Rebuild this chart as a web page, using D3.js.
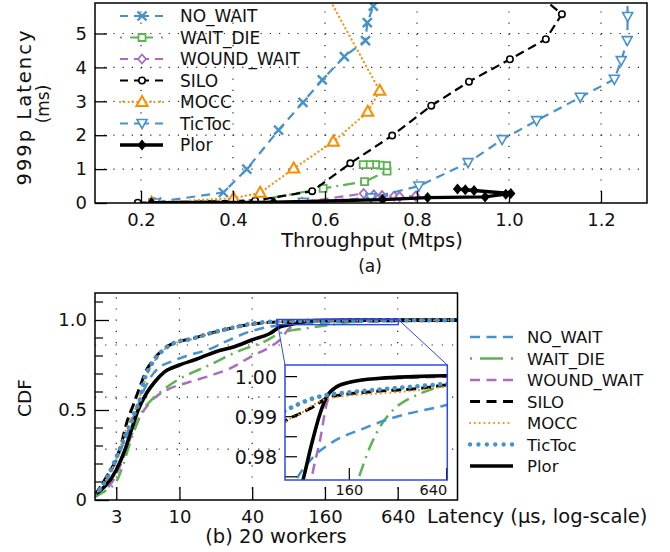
<!DOCTYPE html>
<html lang="en">
<head>
<meta charset="UTF-8">
<title>Throughput / latency</title>
<script src="https://d3js.org/d3.v7.min.js"></script>
<style>
  body { margin: 0; background: #fff; }
  text { font-family: "DejaVu Sans", sans-serif; fill: #111; }
</style>
</head>
<body>
<div id="plot"></div>
<script>
// ---------- (a) throughput (Mtps) vs 999p latency (ms) ----------
let names = ['NO_WAIT', 'WAIT_DIE', 'WOUND_WAIT', 'SILO', 'MOCC', 'TicToc', 'Plor'];

let tputNoWait = [[0.234,0.03],[0.379,0.31],[0.43,1.0],[0.499,2.15],[0.552,2.97],[0.594,3.63],
                  [0.642,4.32],[0.688,4.79],[0.692,5.32],[0.705,5.81],[0.712,6.2]];
let tputWaitDie = [[0.225,0.02],[0.46,0.09],[0.596,0.43],[0.686,0.63],[0.735,0.94],[0.734,1.1],
                   [0.72,1.12],[0.71,1.13],[0.697,1.13],[0.683,1.13]];
let tputWoundWait = [[0.23,0.01],[0.55,0.02],[0.684,0.28],[0.706,0.24],[0.724,0.22],[0.75,0.2],
                     [0.762,0.19],[0.797,0.2]];
let tputSilo = [[0.193,0.01],[0.448,0.07],[0.572,0.35],[0.655,1.17],[0.746,1.99],[0.831,2.87],
                [0.913,3.58],[1.002,4.24],[1.08,4.83],[1.115,5.57],[1.05,6.3]];
let tputMocc = [[0.223,0.01],[0.401,0.14],[0.459,0.3],[0.532,1.02],[0.618,1.81],[0.693,2.69],
                [0.719,3.31],[0.59,6.5]];
let tputTicToc = [[0.23,0.0],[0.553,0.02],[0.7,0.15],[0.804,0.5],[0.911,1.19],[0.985,1.87],
                  [1.06,2.43],[1.155,3.12],[1.229,3.65],[1.244,4.2],[1.257,4.79],[1.258,5.5],[1.257,6.2]];
let tputPlor = [[0.223,0.01],[0.488,0.02],[0.725,0.1],[0.823,0.16],[0.948,0.18],[0.993,0.26],
                [1.004,0.28],[0.924,0.37],[0.905,0.39],[0.888,0.41]];

let tputTicks = [0.2, 0.4, 0.6, 0.8, 1.0, 1.2];
let latTicks = [0, 1, 2, 3, 4, 5];

// ---------- (b) latency CDF, 20 workers ----------
let cdfNoWait = [[2,0.02],[3,0.22],[3.5,0.33],[4,0.43],[4.5,0.52],[5,0.6],[5.7,0.676],[6.66,0.731],
                 [8.6,0.77],[11.4,0.8],[18,0.84],[26,0.89],[38,0.935],[56,0.963],[75.8,0.9746],
                 [96,0.98],[122,0.9833],[197,0.9871],[314,0.99],[580,0.9925],[640,0.9929],[2000,0.996]];
let cdfWaitDie = [[2,0.018],[2.5,0.056],[3,0.102],[3.42,0.194],[3.89,0.315],[4.41,0.417],[5,0.5],
                  [5.87,0.556],[7.33,0.611],[10,0.673],[13,0.71],[18,0.752],[30,0.824],[40,0.855],
                  [50,0.879],[68,0.926],[113,0.954],[182,0.9746],[215,0.9825],[248,0.9875],
                  [299,0.9917],[398,0.995],[505,0.9967],[640,0.9979],[2000,0.9995]];
let cdfWoundWait = [[2,0.02],[3,0.14],[3.5,0.25],[4,0.36],[4.71,0.463],[5.34,0.518],[6.4,0.574],
                    [8.33,0.62],[11.4,0.65],[17.8,0.69],[26,0.73],[40,0.8],[56,0.85],[68,0.89],
                    [82,0.955],[93.7,0.9746],[105.5,0.9842],[116,0.9933],[127,0.9967],[154,0.9983],
                    [197,0.9992],[314,0.9996],[640,1.0],[2000,1.0003]];
let cdfSilo = [[2,0.028],[2.5,0.13],[3,0.23],[3.3,0.31],[3.65,0.426],[4.15,0.528],[4.71,0.63],
               [5.34,0.722],[6.06,0.778],[7.33,0.835],[9.16,0.875],[12.2,0.893],[18.4,0.928],
               [26.2,0.953],[38.4,0.975],[56,0.987],[65.7,0.9892],[79.4,0.9908],[96,0.9925],
               [116,0.9946],[154,0.9956],[248,0.9964],[398,0.9969],[640,0.9979],[2000,0.999]];
let cdfMocc = [[2,0.025],[3,0.23],[3.65,0.4],[4.28,0.5],[5.01,0.63],[5.51,0.71],[6.06,0.76],
               [7.33,0.83],[9.16,0.87],[12.2,0.89],[18.4,0.925],[26.2,0.952],[38.4,0.975],[56,0.985],
               [65.7,0.9888],[80,0.9908],[96,0.993],[110.7,0.9942],[154,0.9952],[248,0.9958],
               [398,0.9965],[640,0.9975],[2000,0.999]];
let cdfTicToc = [[2,0.025],[2.5,0.12],[3.11,0.259],[3.42,0.324],[3.65,0.371],[4.01,0.435],[4.28,0.49],
                 [4.71,0.556],[5.01,0.648],[5.51,0.722],[6.06,0.768],[7.33,0.833],[9.16,0.874],
                 [12.2,0.893],[18.4,0.929],[26.2,0.954],[38.4,0.978],[56,0.99],[65.7,0.9917],
                 [79.4,0.9933],[96,0.9946],[116,0.9954],[154,0.996],[248,0.9968],[398,0.9975],
                 [640,0.9982],[2000,0.9995]];
let cdfPlor = [[2,0.03],[3,0.167],[3.54,0.278],[4,0.389],[4.55,0.5],[5.34,0.593],[6.26,0.657],
               [7.57,0.713],[10,0.75],[13.8,0.782],[20,0.824],[28,0.85],[40,0.89],[56,0.925],
               [68,0.962],[83.2,0.9746],[93.7,0.9833],[105.5,0.9908],[116,0.995],[134,0.9975],
               [169,0.9988],[248,0.9996],[398,1.0],[640,1.0002],[2000,1.0003]];

let latencyTicks = [3, 10, 40, 160, 640];
let cdfMajor = [0, 0.5, 1.0];
let cdfMajorLabels = ['0', '0.5', '1.0'];
let cdfMinor = [0.1, 0.2, 0.3, 0.4, 0.6, 0.7, 0.8, 0.9, 1.1];
let cdfGrid = [0.283, 0.572, 0.861];
let insetCdfTicks = [0.975, 0.98, 0.985, 0.99, 0.995, 1.0];
let insetCdfLabels = {0.98: '0.98', 0.99: '0.99', 1.0: '1.00'};
let insetLatTicks = [160, 640];

// ---------- styles ----------
const BLUE = '#4592cc', GREEN = '#5bb450', PURPLE = '#a96cbf', ORANGE = '#ff8c00', BLACK = '#000';
const ZOOM = '#2f48e6';

function translate(x, y) { return 'translate(' + x + ',' + y + ')'; }

let svg = d3.select('#plot').append('svg').attr('width', 670).attr('height', 552);

// ================= (a) =================
let xA = d3.scaleLinear().domain([0.1, 1.3]).range([95, 647]);
let yA = d3.scaleLinear().domain([0, 5.9]).range([203, 3]);

let seriesA = [
  {pts: tputNoWait,    color: BLUE,   w: 2.2, dash: '9,6',        marker: 'x',      legDash: '8,6,15,6,8'},
  {pts: tputWaitDie,   color: GREEN,  w: 2.2, dash: '12,5,2,5',   marker: 'square', legDash: '2,8,23,8,2'},
  {pts: tputWoundWait, color: PURPLE, w: 2.2, dash: '9,6',        marker: 'diamond',legDash: '8,6,15,6,8'},
  {pts: tputSilo,      color: BLACK,  w: 2.2, dash: '9,5',        marker: 'circle', legDash: '8,6,15,6,8'},
  {pts: tputMocc,      color: ORANGE, w: 2.2, dash: '0.1,4.2',    marker: 'triUp',  legDash: '0.1,4.2'},
  {pts: tputTicToc,    color: BLUE,   w: 2.2, dash: '9,6',        marker: 'triDown',legDash: '8,6,15,6,8'},
  {pts: tputPlor,      color: BLACK,  w: 3.4, dash: null,         marker: 'dfill',  legDash: null}
];

function marker(g, type, color, cx, cy) {
  let p = g.append('path').attr('transform', translate(cx, cy));
  if (type === 'x') {
    p.attr('d', 'M-4.5,-4.5L4.5,4.5M-4.5,4.5L4.5,-4.5').attr('stroke', color).attr('stroke-width', 2.4).attr('fill', 'none');
  } else if (type === 'square') {
    p.attr('d', 'M-3.5,-3.5h7v7h-7z').attr('stroke', color).attr('stroke-width', 1.8).attr('fill', '#fff');
  } else if (type === 'diamond') {
    p.attr('d', 'M0,-4.5L4,0L0,4.5L-4,0Z').attr('stroke', color).attr('stroke-width', 1.8).attr('fill', '#fff');
  } else if (type === 'circle') {
    p.attr('d', 'M3.2,0A3.2,3.2 0 1,1 -3.2,0A3.2,3.2 0 1,1 3.2,0').attr('stroke', color).attr('stroke-width', 1.6).attr('fill', '#fff');
  } else if (type === 'triUp') {
    p.attr('d', 'M0,-6L5.6,4L-5.6,4Z').attr('stroke', color).attr('stroke-width', 2).attr('fill', '#fff');
  } else if (type === 'triDown') {
    p.attr('d', 'M0,5L5,-4L-5,-4Z').attr('stroke', color).attr('stroke-width', 1.6).attr('fill', '#fff');
  } else if (type === 'dfill') {
    p.attr('d', 'M0,-5.5L4.6,0L0,5.5L-4.6,0Z').attr('fill', color);
  }
}

svg.append('clipPath').attr('id', 'clipA').append('rect')
   .attr('x', 95).attr('y', 3).attr('width', 552).attr('height', 200);

let gA = svg.append('g');

// grid
tputTicks.forEach(t => {
  gA.append('line').attr('x1', xA(t)).attr('x2', xA(t)).attr('y1', 203).attr('y2', 3)
    .attr('stroke', '#222').attr('stroke-width', 1.2).attr('stroke-dasharray', '1.2,10');
});
latTicks.slice(1).forEach(t => {
  gA.append('line').attr('x1', 95).attr('x2', 647).attr('y1', yA(t)).attr('y2', yA(t))
    .attr('stroke', '#222').attr('stroke-width', 1.2).attr('stroke-dasharray', '1.2,8');
});

let lineA = d3.line().x(d => xA(d[0])).y(d => yA(d[1]));
let plotA = gA.append('g').attr('clip-path', 'url(#clipA)');
seriesA.forEach(s => {
  plotA.append('path').datum(s.pts).attr('d', lineA)
    .attr('fill', 'none').attr('stroke', s.color).attr('stroke-width', s.w)
    .attr('stroke-linecap', s.marker === 'triUp' ? 'round' : 'butt')
    .attr('stroke-dasharray', s.dash);
  s.pts.forEach(d => marker(plotA, s.marker, s.color, xA(d[0]), yA(d[1])));
});

// legend (a)
seriesA.forEach((s, i) => {
  let ly = 16 + i * 21.5;
  gA.append('line').attr('x1', 120).attr('x2', 163).attr('y1', ly).attr('y2', ly)
    .attr('stroke', s.color).attr('stroke-width', s.w)
    .attr('stroke-linecap', s.marker === 'triUp' ? 'round' : 'butt')
    .attr('stroke-dasharray', s.legDash);
  marker(gA, s.marker, s.color, 142, ly);
  gA.append('text').attr('x', 180).attr('y', ly + 6).style('font-size', '17px').text(names[i]);
});

// axes (a)
let xAxisA = d3.axisBottom(xA).tickValues(tputTicks).tickFormat(d3.format('.1f'))
               .tickSizeInner(-12).tickSizeOuter(0).tickPadding(10);
let yAxisA = d3.axisLeft(yA).tickValues(latTicks).tickFormat(d3.format('d'))
               .tickSizeInner(-12).tickSizeOuter(0).tickPadding(8);
let gxA = gA.append('g').attr('transform', translate(0, 203)).call(xAxisA);
let gyA = gA.append('g').attr('transform', translate(95, 0)).call(yAxisA);
[gxA, gyA].forEach(g => {
  g.select('.domain').remove();
  g.selectAll('line').attr('stroke', '#000').attr('stroke-width', 1.3);
  g.selectAll('text').style('font-size', '18px').style('font-family', '"DejaVu Sans", sans-serif').attr('fill', '#111');
});
gA.append('rect').attr('x', 95).attr('y', 3).attr('width', 552).attr('height', 200)
  .attr('fill', 'none').attr('stroke', '#000').attr('stroke-width', 1.5);

gA.append('text').attr('x', 372).attr('y', 247).attr('text-anchor', 'middle')
  .style('font-size', '19.5px').text('Throughput (Mtps)');
gA.append('text').attr('x', 370).attr('y', 272).attr('text-anchor', 'middle')
  .style('font-size', '17px').text('(a)');
gA.append('text').attr('transform', translate(24, 108) + ' rotate(-90)')
  .attr('text-anchor', 'middle').attr('dominant-baseline', 'central')
  .attr('textLength', 155).attr('lengthAdjust', 'spacing')
  .style('font-size', '19.5px').text('999p Latency');
gA.append('text').attr('transform', translate(43, 104) + ' rotate(-90)')
  .attr('text-anchor', 'middle').attr('dominant-baseline', 'central')
  .style('font-size', '17px').text('(ms)');

// ================= (b) =================
let xB = d3.scaleLog().domain([2, 2000]).range([95, 457.5]);
let yB = d3.scaleLinear().domain([0, 1.15]).range([500, 293]);

let seriesB = [
  {name: 'NO_WAIT',    pts: cdfNoWait,    color: BLUE,   w: 2.5, dash: '10,6.5',   cap: 'butt',  legDash: '10,6.5'},
  {name: 'WAIT_DIE',   pts: cdfWaitDie,   color: GREEN,  w: 2.5, dash: '13,6,2,6', cap: 'butt',  legDash: '2,8,23,8,2'},
  {name: 'WOUND_WAIT', pts: cdfWoundWait, color: PURPLE, w: 2.5, dash: '10,6.5',   cap: 'butt',  legDash: '10,6.5'},
  {name: 'SILO',       pts: cdfSilo,      color: BLACK,  w: 3,   dash: '10,5',     cap: 'butt',  legDash: '10,6.5'},
  {name: 'MOCC',       pts: cdfMocc,      color: ORANGE, w: 2,   dash: '0.1,4.7',  cap: 'round', legDash: '0.1,4.7'},
  {name: 'TicToc',     pts: cdfTicToc,    color: BLUE,   w: 4.6, dash: '0.1,7.5',  cap: 'round', legDash: '0.1,8.3'},
  {name: 'Plor',       pts: cdfPlor,      color: BLACK,  w: 3.6, dash: null,       cap: 'butt',  legDash: null}
];
// drawing order (back to front)
let orderB = [2, 1, 0, 6, 3, 4, 5];

svg.append('clipPath').attr('id', 'clipB').append('rect')
   .attr('x', 95).attr('y', 293).attr('width', 362.5).attr('height', 207);

let gB = svg.append('g');

latencyTicks.forEach(t => {
  gB.append('line').attr('x1', xB(t)).attr('x2', xB(t)).attr('y1', 500).attr('y2', 293)
    .attr('stroke', '#222').attr('stroke-width', 1.2).attr('stroke-dasharray', '1.2,10');
});
cdfGrid.forEach(t => {
  gB.append('line').attr('x1', 95).attr('x2', 457.5).attr('y1', yB(t)).attr('y2', yB(t))
    .attr('stroke', '#222').attr('stroke-width', 1.2).attr('stroke-dasharray', '1.2,9');
});

let lineB = d3.line().x(d => xB(d[0])).y(d => yB(d[1])).curve(d3.curveMonotoneX);
let plotB = gB.append('g').attr('clip-path', 'url(#clipB)');
orderB.forEach(i => {
  let s = seriesB[i];
  plotB.append('path').datum(s.pts).attr('d', lineB)
    .attr('fill', 'none').attr('stroke', s.color).attr('stroke-width', s.w)
    .attr('stroke-linecap', s.cap).attr('stroke-dasharray', s.dash);
});

// axes (b)
let xAxisB = d3.axisBottom(xB).tickValues(latencyTicks).tickFormat(d3.format('d'))
               .tickSizeInner(-13).tickSizeOuter(0).tickPadding(10);
let yAxisB = d3.axisLeft(yB).tickValues(cdfMajor).tickFormat((d, i) => cdfMajorLabels[i])
               .tickSizeInner(-14).tickSizeOuter(0).tickPadding(8);
let gxB = gB.append('g').attr('transform', translate(0, 500)).call(xAxisB);
let gyB = gB.append('g').attr('transform', translate(95, 0)).call(yAxisB);
[gxB, gyB].forEach(g => {
  g.select('.domain').remove();
  g.selectAll('line').attr('stroke', '#000').attr('stroke-width', 1.3);
  g.selectAll('text').style('font-size', '18px').style('font-family', '"DejaVu Sans", sans-serif').attr('fill', '#111');
});
cdfMinor.forEach(t => {
  gB.append('line').attr('x1', 95).attr('x2', 103).attr('y1', yB(t)).attr('y2', yB(t))
    .attr('stroke', '#000').attr('stroke-width', 1.2);
});

// zoom rectangle + inset
let insetX = [64, 646], insetY = [0.9742, 1.0029];
let ix0 = 285, ix1 = 447.3, iy0 = 365, iy1 = 480;

gB.append('rect').attr('x', xB(insetX[0])).attr('y', yB(insetY[1]))
  .attr('width', xB(insetX[1]) - xB(insetX[0])).attr('height', yB(insetY[0]) - yB(insetY[1]))
  .attr('fill', 'none').attr('stroke', ZOOM).attr('stroke-width', 1.4);
gB.append('line').attr('x1', xB(insetX[0])).attr('y1', yB(insetY[1])).attr('x2', ix0).attr('y2', iy0)
  .attr('stroke', ZOOM).attr('stroke-width', 1);
gB.append('line').attr('x1', xB(insetX[1])).attr('y1', yB(insetY[1])).attr('x2', ix1).attr('y2', iy0)
  .attr('stroke', ZOOM).attr('stroke-width', 1);

let xI = d3.scaleLog().domain(insetX).range([ix0, ix1]);
let yI = d3.scaleLinear().domain(insetY).range([iy1, iy0]);

svg.append('clipPath').attr('id', 'clipI').append('rect')
   .attr('x', ix0).attr('y', iy0).attr('width', ix1 - ix0).attr('height', iy1 - iy0);

let gI = svg.append('g');
gI.append('rect').attr('x', ix0).attr('y', iy0).attr('width', ix1 - ix0).attr('height', iy1 - iy0)
  .attr('fill', '#fff');
let lineI = d3.line().x(d => xI(d[0])).y(d => yI(d[1])).curve(d3.curveMonotoneX);
let plotI = gI.append('g').attr('clip-path', 'url(#clipI)');
orderB.forEach(i => {
  let s = seriesB[i];
  plotI.append('path').datum(s.pts).attr('d', lineI)
    .attr('fill', 'none').attr('stroke', s.color).attr('stroke-width', s.w)
    .attr('stroke-linecap', s.cap).attr('stroke-dasharray', s.dash);
});
insetCdfTicks.forEach(t => {
  gI.append('line').attr('x1', ix0).attr('x2', ix0 + 12).attr('y1', yI(t)).attr('y2', yI(t))
    .attr('stroke', '#000').attr('stroke-width', 1.2);
  if (insetCdfLabels[t]) {
    gI.append('text').attr('x', ix0 - 8).attr('y', yI(t)).attr('text-anchor', 'end')
      .attr('dominant-baseline', 'central').style('font-size', '19px').text(insetCdfLabels[t]);
  }
});
insetLatTicks.forEach((t, i) => {
  gI.append('line').attr('x1', xI(t)).attr('x2', xI(t)).attr('y1', iy1).attr('y2', iy1 - 12)
    .attr('stroke', '#000').attr('stroke-width', 1.2);
  gI.append('text').attr('x', i === insetLatTicks.length - 1 ? ix1 : xI(t)).attr('y', 495)
    .attr('text-anchor', i === insetLatTicks.length - 1 ? 'end' : 'middle')
    .style('font-size', '14.5px').text(d3.format('d')(t));
});
gI.append('rect').attr('x', ix0).attr('y', iy0).attr('width', ix1 - ix0).attr('height', iy1 - iy0)
  .attr('fill', 'none').attr('stroke', ZOOM).attr('stroke-width', 1.5);

gB.append('rect').attr('x', 95).attr('y', 293).attr('width', 362.5).attr('height', 207)
  .attr('fill', 'none').attr('stroke', '#000').attr('stroke-width', 1.5);
gB.raise();
gI.raise();

// legend (b)
let gL = svg.append('g');
seriesB.forEach((s, i) => {
  let ly = 337 + i * 21.5;
  gL.append('line').attr('x1', 470).attr('x2', 513).attr('y1', ly).attr('y2', ly)
    .attr('stroke', s.color).attr('stroke-width', s.name === 'TicToc' ? 4.3 : s.w)
    .attr('stroke-linecap', s.cap).attr('stroke-dasharray', s.legDash);
  gL.append('text').attr('x', 527).attr('y', ly + 6).style('font-size', '16.5px').text(s.name);
});

// labels (b)
gB.append('text').attr('x', 427).attr('y', 523).style('font-size', '19.5px').text('Latency (µs, log-scale)');
gB.append('text').attr('x', 276).attr('y', 543).attr('text-anchor', 'middle')
  .style('font-size', '19.5px').text('(b) 20 workers');
gB.append('text').attr('transform', translate(24, 398) + ' rotate(-90)')
  .attr('text-anchor', 'middle').attr('dominant-baseline', 'central')
  .style('font-size', '18.5px').text('CDF');
</script>
</body>
</html>
